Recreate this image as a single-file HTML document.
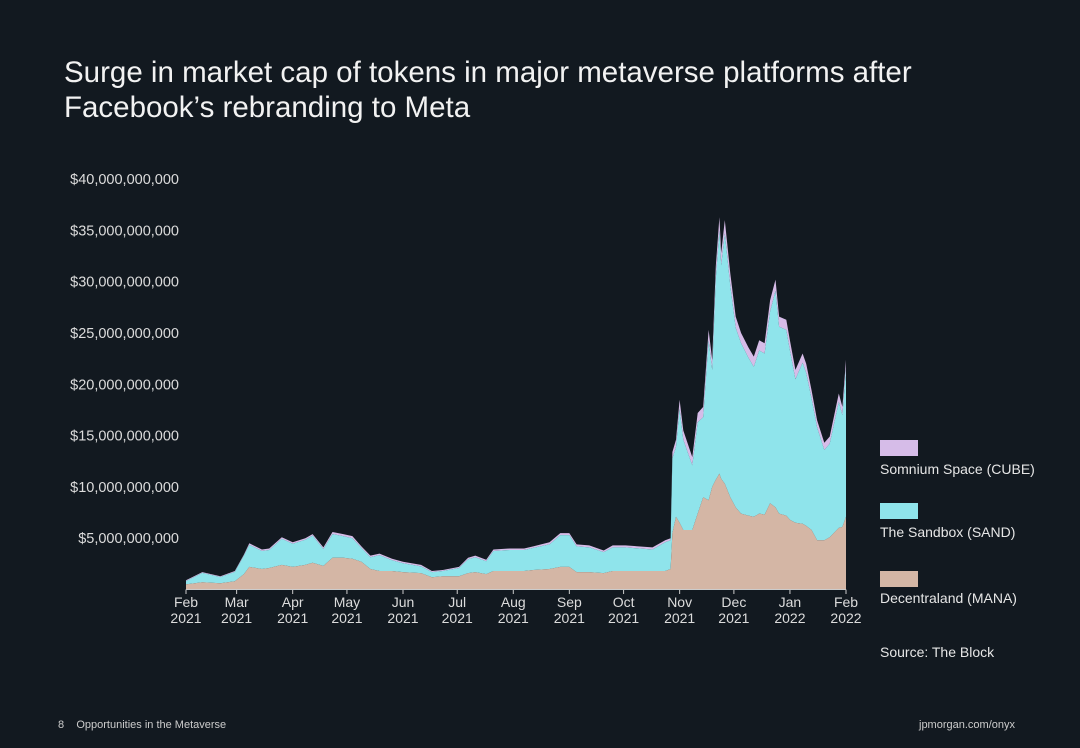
<!DOCTYPE html>
<html><head><meta charset="utf-8">
<style>
body{margin:0;background:#121920;font-family:"Liberation Sans",sans-serif;}
#wrap{position:relative;width:1080px;height:748px;overflow:hidden;background:#121920;color:#fff;}
.t{position:absolute;white-space:nowrap;}
</style></head><body>
<div id="wrap">
<div class="t" style="left:64px;top:55px;font-size:29.5px;line-height:35px;color:#f2f2f2;letter-spacing:0px">Surge in market cap of tokens in major metaverse platforms after<br>Facebook’s rebranding to Meta</div>
<svg id="chart" width="1080" height="748" style="position:absolute;left:0;top:0"></svg>
<div class="t" style="left:880px;top:440px"><div style="width:38px;height:16px;background:#d6bce8"></div><div style="font-size:14px;color:#e6e6e6;margin-top:5px">Somnium Space (CUBE)</div></div>
<div class="t" style="left:880px;top:503px"><div style="width:38px;height:16px;background:#8fe4eb"></div><div style="font-size:14px;color:#e6e6e6;margin-top:5px">The Sandbox (SAND)</div></div>
<div class="t" style="left:880px;top:571px"><div style="width:38px;height:16px;background:#d4b6a5"></div><div style="font-size:14px;color:#e6e6e6;margin-top:3px">Decentraland (MANA)</div></div>
<div class="t" style="left:880px;top:644px;font-size:14px;color:#e6e6e6">Source: The Block</div>
<div class="t" style="left:58px;top:719px;font-size:11px;color:#ccc">8&nbsp;&nbsp;&nbsp;&nbsp;Opportunities in the Metaverse</div>
<div class="t" style="left:919px;top:719px;font-size:11px;color:#ccc">jpmorgan.com/onyx</div>
</div>
<script>
const days=[0,9,19,27,32,35,42,46,53,59,66,70,76,81,87,92,97,102,107,114,120,130,136,142,151,156,160,166,170,179,187,192,201,207,212,216,223,231,236,243,258,265,268,269,271,273,275,280,283,286,289,291,293,295,296,298,301,304,307,311,314,317,320,323,326,328,332,334,337,341,343,346,349,353,356,361,363,365];
const total=[0.9,1.7,1.3,1.8,3.4,4.5,3.9,4.0,5.1,4.6,5.0,5.4,4.1,5.6,5.4,5.2,4.2,3.3,3.5,3.0,2.7,2.4,1.8,1.9,2.2,3.1,3.3,2.9,3.9,4.0,4.0,4.2,4.6,5.5,5.5,4.4,4.3,3.8,4.3,4.3,4.1,4.8,5.0,13.4,14.6,18.5,15.5,12.9,17.2,17.8,25.3,22.4,31.5,36.3,32.8,36.0,30.8,26.6,25.0,23.6,22.7,24.3,24.0,28.2,30.2,26.6,26.3,24.3,21.4,23.0,22.0,19.4,16.5,14.3,14.9,19.1,17.8,22.4];
const mana=[0.5,0.7,0.6,0.8,1.5,2.2,2.0,2.1,2.4,2.2,2.4,2.6,2.3,3.1,3.1,3.0,2.7,2.0,1.8,1.8,1.7,1.6,1.2,1.3,1.3,1.6,1.7,1.5,1.8,1.8,1.8,1.9,2.0,2.2,2.2,1.7,1.7,1.6,1.8,1.8,1.8,1.8,2.0,5.5,7.1,6.5,5.8,5.8,7.4,9.0,8.7,10.0,10.7,11.3,10.8,10.3,9.0,8.0,7.4,7.2,7.1,7.4,7.3,8.4,8.0,7.4,7.2,6.8,6.5,6.4,6.2,5.8,4.8,4.8,5.1,6.0,6.1,7.1];
const cube=[0.08,0.08,0.08,0.08,0.1,0.15,0.15,0.15,0.15,0.15,0.15,0.15,0.15,0.2,0.2,0.2,0.15,0.15,0.15,0.15,0.15,0.15,0.1,0.1,0.1,0.15,0.15,0.15,0.15,0.15,0.15,0.15,0.2,0.2,0.2,0.2,0.2,0.15,0.2,0.2,0.2,0.2,0.2,0.6,0.7,0.9,0.9,0.8,0.9,1.0,1.0,1.0,1.2,1.3,1.2,1.3,1.2,1.1,1.0,1.0,1.0,1.0,1.0,1.1,1.1,1.0,1.0,1.0,0.9,0.9,0.9,0.8,0.7,0.7,0.7,0.8,0.8,0.9];
const sand=total.map((t,i)=>t-mana[i]-cube[i]);
const yTicks=[5,10,15,20,25,30,35,40];
const monthDays=[0,28,59,89,120,150,181,212,242,273,303,334,365];
const monthLabels=["Feb","Mar","Apr","May","Jun","Jul","Aug","Sep","Oct","Nov","Dec","Jan","Feb"];
const yearLabels=["2021","2021","2021","2021","2021","2021","2021","2021","2021","2021","2021","2022","2022"];
const NS="http://www.w3.org/2000/svg";
const svg=document.getElementById('chart');
const X=d=>186+d*(660/365);
const Y=v=>589.5-v*10.26;
function el(t,a){const e=document.createElementNS(NS,t);for(const k in a)e.setAttribute(k,a[k]);svg.appendChild(e);return e;}
const lows=[days.map(()=>0),mana,mana.map((m,i)=>m+sand[i])];
const highs=[mana,lows[2],total];
const cols=["#d4b6a5","#8fe4eb","#d6bce8"];
const names=["area-mana","area-sand","area-cube"];
[2,1,0].forEach(s=>{
  let d="M"+days.map((dd,i)=>X(dd).toFixed(1)+","+Y(highs[s][i]).toFixed(1)).join("L");
  for(let i=days.length-1;i>=0;i--)d+="L"+X(days[i]).toFixed(1)+","+Y(lows[s][i]).toFixed(1);
  const p=el('path',{d:d+"Z",fill:cols[s]});
  
  
});
const ax=el('line',{x1:186,x2:846,y1:589.5,y2:589.5,stroke:'#ccc','stroke-width':1});


yTicks.forEach(v=>{
  const t=el('text',{x:179,y:Y(v)+5,'text-anchor':'end','font-size':14.5,fill:'#dcdcdc','font-family':'Liberation Sans'});
  t.textContent="$"+(v*1e9).toLocaleString('en-US');
  
  
});
monthDays.forEach((d,i)=>{
  const tk=el('line',{x1:X(d),x2:X(d),y1:589.5,y2:594,stroke:'#ccc'});
  
  
  const t=el('text',{x:X(d),y:607,'text-anchor':'middle','font-size':14,fill:'#dcdcdc','font-family':'Liberation Sans'});
  t.textContent=monthLabels[i];
  
  
  const t2=el('text',{x:X(d),y:623,'text-anchor':'middle','font-size':14,fill:'#dcdcdc','font-family':'Liberation Sans'});
  t2.textContent=yearLabels[i];
  
  
});
</script>
</body></html>
